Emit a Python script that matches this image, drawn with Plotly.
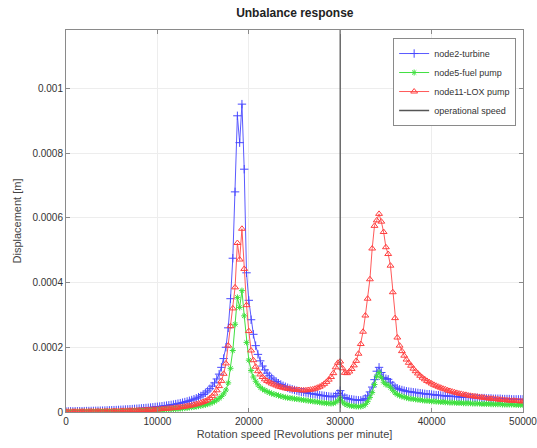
import plotly.graph_objects as go

# Rotation speed grid [RPM], 250 RPM steps
rpm = list(range(0, 50001, 250))

# Displacement values in micrometres (converted to metres below)
turbine_um = [
    1.8, 1.9, 2.0, 2.1, 2.2, 2.3, 2.4, 2.5, 2.7, 2.9,
    3.0, 3.2, 3.4, 3.6, 3.8, 4.0, 4.2, 4.5, 4.8, 5.1,
    5.4, 5.7, 6.0, 6.4, 6.8, 7.2, 7.6, 8.0, 8.5, 9.0,
    9.5, 10.0, 10.6, 11.2, 11.8, 12.4, 13.0, 13.8, 14.6, 15.4,
    16.2, 17.0, 17.9, 18.8, 19.8, 20.8, 21.9, 23.1, 24.4, 25.8,
    27.3, 28.9, 30.7, 32.6, 34.7, 37.0, 39.6, 42.5, 45.8, 49.5,
    54, 59, 65, 72, 80, 90, 102, 117, 138, 165,
    200, 260, 350, 475, 680, 915, 832, 951, 750, 430,
    345, 285, 240, 205, 178, 158, 142, 130, 120, 112,
    105, 99, 94, 89, 85, 81, 78, 75, 72, 70,
    68, 66, 64, 62, 61, 60, 58, 57, 56, 55,
    54, 52, 51, 50, 49, 48, 47, 47, 50, 57,
    66, 52, 45, 42, 40, 39, 38, 37, 36, 36,
    38, 42, 50, 62, 77, 100, 126, 138, 122, 107,
    103, 101, 92, 83, 77, 73, 70, 68, 66, 64,
    63, 62, 61, 60, 59, 58, 57, 56, 55, 55,
    54, 53, 52, 52, 51, 50, 50, 49, 49, 48,
    48, 47, 47, 46, 46, 45, 45, 45, 44, 44,
    44, 43, 43, 43, 42, 42, 42, 41, 41, 41,
    41, 40, 40, 40, 40, 39, 39, 39, 39, 39,
    39,
]

fuel_pump_um = [
    0.6, 0.7, 0.7, 0.8, 0.8, 0.9, 0.9, 1.0, 1.1, 1.1,
    1.2, 1.3, 1.3, 1.4, 1.5, 1.6, 1.7, 1.8, 1.9, 2.0,
    2.1, 2.2, 2.3, 2.5, 2.6, 2.8, 2.9, 3.1, 3.3, 3.5,
    3.6, 3.8, 4.0, 4.2, 4.4, 4.7, 5.0, 5.2, 5.5, 5.7,
    6.0, 6.3, 6.7, 7.1, 7.5, 7.9, 8.3, 8.8, 9.3, 9.9,
    10.5, 11.2, 12.0, 12.8, 13.7, 14.6, 15.6, 16.7, 17.9, 19.2,
    20.6, 22.2, 24.0, 26.5, 29.5, 33, 37, 42, 48, 56,
    68, 90, 135, 190, 271, 354, 323, 375, 297, 215,
    160, 128, 108, 95, 84, 76, 71, 67, 63, 60,
    57, 55, 53, 51, 49, 47, 45, 44, 43, 42,
    41, 40, 39, 38, 37, 36, 35, 34, 33, 32,
    31, 30, 29, 28, 27, 27, 26, 27, 30, 35,
    43, 31, 25, 22, 20, 19, 18, 17, 17, 17,
    19, 23, 32, 45, 60, 85, 110, 122, 106, 92,
    85, 83, 76, 67, 59, 54, 51, 48, 46, 44,
    42, 41, 40, 39, 38, 37, 36, 35, 35, 34,
    33, 33, 32, 32, 31, 31, 30, 30, 29, 29,
    29, 28, 28, 28, 27, 27, 27, 27, 26, 26,
    26, 26, 25, 25, 25, 25, 24, 24, 24, 24,
    24, 23, 23, 23, 23, 23, 23, 22, 22, 22,
    22,
]

lox_pump_um = [
    0.8, 0.9, 1.0, 1.0, 1.1, 1.2, 1.2, 1.3, 1.4, 1.5,
    1.6, 1.7, 1.8, 1.9, 2.0, 2.1, 2.2, 2.3, 2.4, 2.6,
    2.7, 2.9, 3.0, 3.2, 3.4, 3.6, 3.8, 4.0, 4.2, 4.5,
    4.7, 5.0, 5.3, 5.6, 5.9, 6.2, 6.6, 7.0, 7.4, 7.8,
    8.2, 8.7, 9.2, 9.7, 10.3, 10.9, 11.5, 12.2, 13.0, 13.8,
    14.7, 15.7, 16.8, 18.0, 19.3, 20.8, 22.4, 24.2, 26.2, 28.5,
    31, 34, 38, 43, 49, 57, 67, 80, 96, 118,
    150, 205, 265, 320, 385, 522, 471, 566, 442, 330,
    250, 190, 160, 140, 126, 116, 108, 101, 96, 92,
    88, 85, 82, 79, 77, 75, 73, 72, 71, 70,
    69, 68, 68, 67, 67, 67, 68, 69, 70, 72,
    75, 78, 82, 87, 93, 100, 108, 120, 138, 152,
    156, 135, 121, 120, 125, 133, 144, 158, 180, 210,
    248, 298, 350, 410, 505, 575, 592, 612, 588, 556,
    509, 488, 452, 370, 290, 230, 205, 188, 174, 162,
    152, 143, 134, 126, 119, 112, 106, 101, 96, 92,
    88, 84, 81, 78, 75, 72, 70, 67, 65, 63,
    61, 59, 57, 56, 54, 53, 51, 50, 49, 48,
    47, 46, 45, 44, 43, 42, 41, 41, 40, 39,
    38, 38, 37, 36, 36, 35, 35, 34, 34, 33,
    33,
]

operational_speed = 30000
y_max = 0.00118

x_ticks = [0, 10000, 20000, 30000, 40000, 50000]
y_ticks = [0, 0.0002, 0.0004, 0.0006, 0.0008, 0.001]
y_tick_labels = ["0", "0.0002", "0.0004", "0.0006", "0.0008", "0.001"]

to_m = 1e-6
turbine = [v * to_m for v in turbine_um]
fuel_pump = [v * to_m for v in fuel_pump_um]
lox_pump = [v * to_m for v in lox_pump_um]

fig = go.Figure()
fig.add_trace(go.Scatter(
    x=rpm, y=turbine, mode="lines+markers", name="node2-turbine",
    line=dict(color="#5a5aff", width=1),
    marker=dict(symbol="cross-thin", size=6, line=dict(color="#4848ff", width=1)),
))
fig.add_trace(go.Scatter(
    x=rpm, y=fuel_pump, mode="lines+markers", name="node5-fuel pump",
    line=dict(color="#40e040", width=1),
    marker=dict(symbol="asterisk-open", size=5, line=dict(color="#20d820", width=1)),
))
fig.add_trace(go.Scatter(
    x=rpm, y=lox_pump, mode="lines+markers", name="node11-LOX pump",
    line=dict(color="#ff5a5a", width=1),
    marker=dict(symbol="triangle-up-open", size=6, color="#ff4040",
                line=dict(color="#ff4040", width=1)),
))
fig.add_trace(go.Scatter(
    x=[operational_speed, operational_speed], y=[0, y_max], mode="lines",
    name="operational speed", line=dict(color="#555555", width=1.3),
))

axis_common = dict(
    showline=True, linecolor="#8a8a8a", linewidth=1, mirror="ticks",
    ticks="inside", ticklen=4, tickcolor="#8a8a8a",
    showgrid=True, gridcolor="#ededed", gridwidth=1, zeroline=False,
    tickfont=dict(size=10, color="#333333"),
    ticklabeloverflow="allow",
)

fig.update_layout(
    width=537, height=448,
    margin=dict(l=66, r=14, t=30, b=36),
    paper_bgcolor="white", plot_bgcolor="white",
    font=dict(family="Liberation Sans, Arial, sans-serif", color="#333333"),
    title=dict(text="<b>Unbalance response</b>", x=0.549, xanchor="center",
               y=0.972, yanchor="middle", font=dict(size=12, color="#222222")),
    xaxis=dict(range=[0, 50000], tickvals=x_ticks, tickformat="d",
               automargin=False,
               title=dict(text="Rotation speed [Revolutions per minute]",
                          font=dict(size=11, color="#444444"), standoff=4),
               **axis_common),
    yaxis=dict(range=[0, y_max], tickvals=y_ticks, ticktext=y_tick_labels,
               automargin=False,
               title=dict(text="Displacement [m]",
                          font=dict(size=11, color="#444444"), standoff=8),
               **axis_common),
    legend=dict(x=0.985, y=0.979, xanchor="right", yanchor="top",
                bgcolor="white", bordercolor="#8a8a8a", borderwidth=1,
                font=dict(size=9, color="#333333"), tracegroupgap=0,
                itemwidth=30),
    showlegend=True,
)

fig.write_html("out.html")
